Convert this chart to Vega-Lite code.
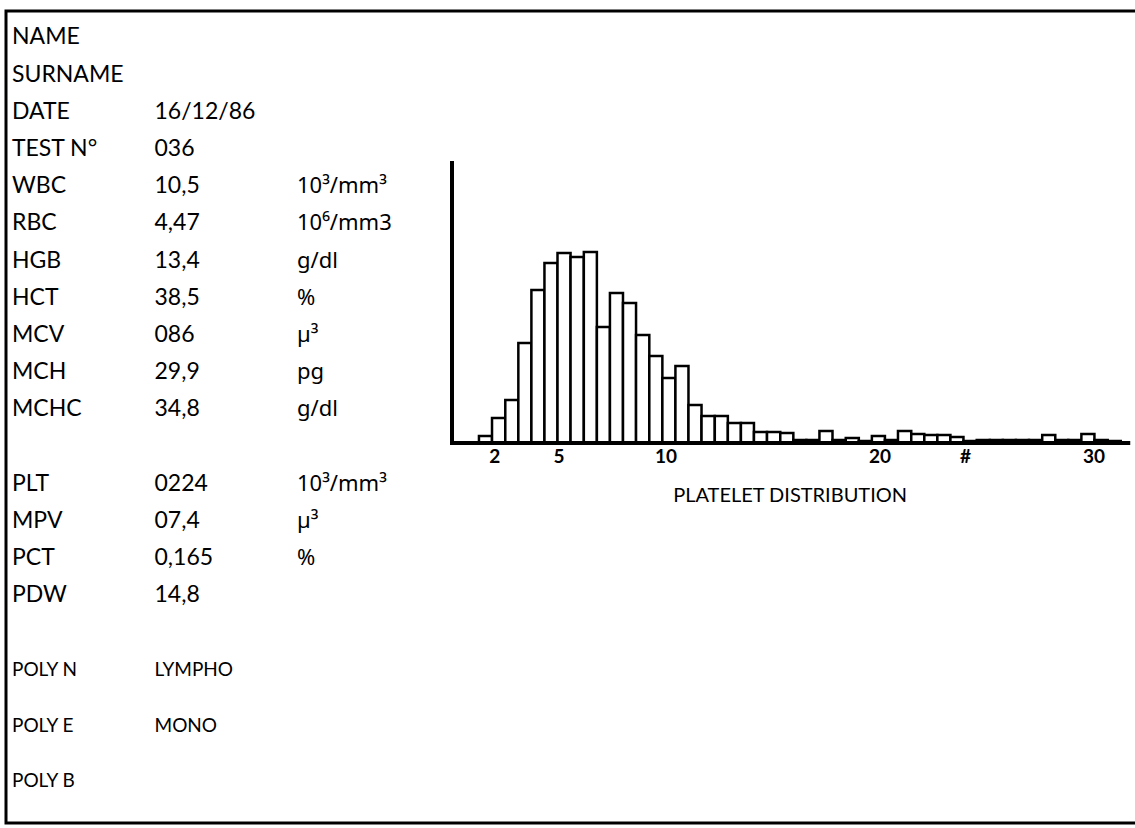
{
  "$schema": "https://vega.github.io/schema/vega-lite/v6.json",
  "width": 1135,
  "height": 828,
  "autosize": {"type": "fit", "contains": "padding"},
  "padding": {"left": 6, "top": 11, "right": -6, "bottom": 5},
  "background": "white",
  "config": {"view": {"stroke": "black", "strokeWidth": 3}, "font": "Lato"},
  "datasets": {
    "report": [
      {"line": 0, "col": 0, "text": "NAME"},
      {"line": 1, "col": 0, "text": "SURNAME"},
      {"line": 2, "col": 0, "text": "DATE"},
      {"line": 2, "col": 1, "text": "16/12/86"},
      {"line": 3, "col": 0, "text": "TEST N°"},
      {"line": 3, "col": 1, "text": "036"},
      {"line": 4, "col": 0, "text": "WBC"},
      {"line": 4, "col": 1, "text": "10,5"},
      {"line": 5, "col": 0, "text": "RBC"},
      {"line": 5, "col": 1, "text": "4,47"},
      {"line": 6, "col": 0, "text": "HGB"},
      {"line": 6, "col": 1, "text": "13,4"},
      {"line": 7, "col": 0, "text": "HCT"},
      {"line": 7, "col": 1, "text": "38,5"},
      {"line": 8, "col": 0, "text": "MCV"},
      {"line": 8, "col": 1, "text": "086"},
      {"line": 9, "col": 0, "text": "MCH"},
      {"line": 9, "col": 1, "text": "29,9"},
      {"line": 10, "col": 0, "text": "MCHC"},
      {"line": 10, "col": 1, "text": "34,8"},
      {"line": 12, "col": 0, "text": "PLT"},
      {"line": 12, "col": 1, "text": "0224"},
      {"line": 13, "col": 0, "text": "MPV"},
      {"line": 13, "col": 1, "text": "07,4"},
      {"line": 14, "col": 0, "text": "PCT"},
      {"line": 14, "col": 1, "text": "0,165"},
      {"line": 15, "col": 0, "text": "PDW"},
      {"line": 15, "col": 1, "text": "14,8"}
    ],
    "units": [
      {"line": 4, "col": 2, "text": "10³/mm³"},
      {"line": 5, "col": 2, "text": "10⁶/mm3"},
      {"line": 6, "col": 2, "text": "g/dl"},
      {"line": 7, "col": 2, "text": "%"},
      {"line": 8, "col": 2, "text": "µ³"},
      {"line": 9, "col": 2, "text": "pg"},
      {"line": 10, "col": 2, "text": "g/dl"},
      {"line": 12, "col": 2, "text": "10³/mm³"},
      {"line": 13, "col": 2, "text": "µ³"},
      {"line": 14, "col": 2, "text": "%"}
    ],
    "poly": [
      {"line": 17, "col": 0, "text": "POLY N"},
      {"line": 17, "col": 1, "text": "LYMPHO"},
      {"line": 18.5, "col": 0, "text": "POLY E"},
      {"line": 18.5, "col": 1, "text": "MONO"},
      {"line": 20, "col": 0, "text": "POLY B"}
    ],
    "plt": [
      {"lo": 1.26, "hi": 1.87, "count": 7},
      {"lo": 1.87, "hi": 2.49, "count": 25},
      {"lo": 2.49, "hi": 3.10, "count": 43},
      {"lo": 3.10, "hi": 3.71, "count": 100},
      {"lo": 3.71, "hi": 4.32, "count": 153},
      {"lo": 4.32, "hi": 4.93, "count": 180},
      {"lo": 4.93, "hi": 5.54, "count": 190},
      {"lo": 5.54, "hi": 6.16, "count": 186},
      {"lo": 6.16, "hi": 6.77, "count": 191},
      {"lo": 6.77, "hi": 7.38, "count": 116},
      {"lo": 7.38, "hi": 7.99, "count": 150},
      {"lo": 7.99, "hi": 8.60, "count": 140},
      {"lo": 8.60, "hi": 9.22, "count": 108},
      {"lo": 9.22, "hi": 9.83, "count": 87},
      {"lo": 9.83, "hi": 10.44, "count": 65},
      {"lo": 10.44, "hi": 11.05, "count": 77},
      {"lo": 11.05, "hi": 11.66, "count": 38},
      {"lo": 11.66, "hi": 12.28, "count": 27},
      {"lo": 12.28, "hi": 12.89, "count": 27},
      {"lo": 12.89, "hi": 13.50, "count": 20},
      {"lo": 13.50, "hi": 14.11, "count": 20},
      {"lo": 14.11, "hi": 14.72, "count": 11},
      {"lo": 14.72, "hi": 15.34, "count": 11},
      {"lo": 15.34, "hi": 15.95, "count": 10},
      {"lo": 15.95, "hi": 16.56, "count": 3},
      {"lo": 16.56, "hi": 17.17, "count": 3},
      {"lo": 17.17, "hi": 17.78, "count": 12},
      {"lo": 17.78, "hi": 18.40, "count": 3},
      {"lo": 18.40, "hi": 19.01, "count": 5},
      {"lo": 19.01, "hi": 19.62, "count": 2},
      {"lo": 19.62, "hi": 20.23, "count": 7},
      {"lo": 20.23, "hi": 20.84, "count": 3},
      {"lo": 20.84, "hi": 21.46, "count": 12},
      {"lo": 21.46, "hi": 22.07, "count": 9},
      {"lo": 22.07, "hi": 22.68, "count": 8},
      {"lo": 22.68, "hi": 23.29, "count": 8},
      {"lo": 23.29, "hi": 23.90, "count": 6},
      {"lo": 23.90, "hi": 24.52, "count": 2},
      {"lo": 24.52, "hi": 25.13, "count": 3},
      {"lo": 25.13, "hi": 25.74, "count": 3},
      {"lo": 25.74, "hi": 26.35, "count": 3},
      {"lo": 26.35, "hi": 26.96, "count": 3},
      {"lo": 26.96, "hi": 27.58, "count": 3},
      {"lo": 27.58, "hi": 28.19, "count": 8},
      {"lo": 28.19, "hi": 28.80, "count": 3},
      {"lo": 28.80, "hi": 29.41, "count": 3},
      {"lo": 29.41, "hi": 30.02, "count": 9},
      {"lo": 30.02, "hi": 30.64, "count": 3},
      {"lo": 30.64, "hi": 31.25, "count": 2}
    ],
    "axes": [
      {"a": 0, "b": 31.6, "c1": 0, "c2": 0},
      {"a": 0, "b": 0, "c1": 0, "c2": 280}
    ],
    "ticks": [
      {"v": 2, "label": "2"},
      {"v": 5, "label": "5"},
      {"v": 10, "label": "10"},
      {"v": 20, "label": "20"},
      {"v": 24, "label": "#"},
      {"v": 30, "label": "30"}
    ],
    "caption": [{"t": "PLATELET DISTRIBUTION"}]
  },
  "resolve": {"scale": {"x": "independent", "y": "independent"}},
  "layer": [
    {
      "layer": [
        {
          "data": {"name": "report"},
          "mark": {"type": "text", "align": "left", "baseline": "middle", "fontSize": 23, "font": "Lato", "color": "black"},
          "encoding": {
            "x": {"field": "col", "type": "quantitative", "scale": {"domain": [-0.0421, 7.9228], "nice": false, "zero": false}, "axis": null},
            "y": {"field": "line", "type": "quantitative", "scale": {"domain": [-0.712, 21.116], "nice": false, "zero": false, "reverse": true}, "axis": null},
            "text": {"field": "text"}
          }
        },
        {
          "data": {"name": "units"},
          "mark": {"type": "text", "align": "left", "baseline": "middle", "fontSize": 22, "font": "Noto Sans", "color": "black"},
          "encoding": {
            "x": {"field": "col", "type": "quantitative", "scale": {"domain": [-0.0421, 7.9228], "nice": false, "zero": false}, "axis": null},
            "y": {"field": "line", "type": "quantitative", "scale": {"domain": [-0.712, 21.116], "nice": false, "zero": false, "reverse": true}, "axis": null},
            "text": {"field": "text"}
          }
        },
        {
          "data": {"name": "poly"},
          "mark": {"type": "text", "align": "left", "baseline": "middle", "fontSize": 19, "font": "Lato", "color": "black"},
          "encoding": {
            "x": {"field": "col", "type": "quantitative", "scale": {"domain": [-0.0421, 7.9228], "nice": false, "zero": false}, "axis": null},
            "y": {"field": "line", "type": "quantitative", "scale": {"domain": [-0.712, 21.116], "nice": false, "zero": false, "reverse": true}, "axis": null},
            "text": {"field": "text"}
          }
        }
      ]
    },
    {
      "layer": [
        {
          "data": {"name": "plt"},
          "mark": {"type": "rect", "fill": "white", "stroke": "black", "strokeWidth": 2.5},
          "encoding": {
            "x": {"field": "lo", "type": "quantitative", "scale": {"domain": [-20.841, 32.196], "nice": false, "zero": false}, "axis": null},
            "x2": {"field": "hi"},
            "y": {"field": "count", "type": "quantitative", "scale": {"domain": [-380, 432], "nice": false, "zero": false}, "axis": null},
            "y2": {"datum": 0}
          }
        },
        {
          "data": {"name": "axes"},
          "mark": {"type": "rule", "color": "black", "strokeWidth": 4, "strokeCap": "square"},
          "encoding": {
            "x": {"field": "a", "type": "quantitative", "scale": {"domain": [-20.841, 32.196], "nice": false, "zero": false}, "axis": null},
            "x2": {"field": "b"},
            "y": {"field": "c1", "type": "quantitative", "scale": {"domain": [-380, 432], "nice": false, "zero": false}, "axis": null},
            "y2": {"field": "c2"}
          }
        },
        {
          "data": {"name": "ticks"},
          "mark": {"type": "text", "align": "center", "baseline": "middle", "fontSize": 19, "fontWeight": "bold", "font": "Lato", "color": "black", "dy": 14},
          "encoding": {
            "x": {"field": "v", "type": "quantitative", "scale": {"domain": [-20.841, 32.196], "nice": false, "zero": false}, "axis": null},
            "y": {"datum": 0, "type": "quantitative", "scale": {"domain": [-380, 432], "nice": false, "zero": false}, "axis": null},
            "text": {"field": "label"}
          }
        },
        {
          "data": {"name": "caption"},
          "mark": {"type": "text", "align": "center", "baseline": "middle", "fontSize": 20, "font": "Lato", "color": "black", "dy": 53},
          "encoding": {
            "x": {"datum": 15.8, "type": "quantitative", "scale": {"domain": [-20.841, 32.196], "nice": false, "zero": false}, "axis": null},
            "y": {"datum": 0, "type": "quantitative", "scale": {"domain": [-380, 432], "nice": false, "zero": false}, "axis": null},
            "text": {"field": "t"}
          }
        }
      ]
    }
  ]
}
